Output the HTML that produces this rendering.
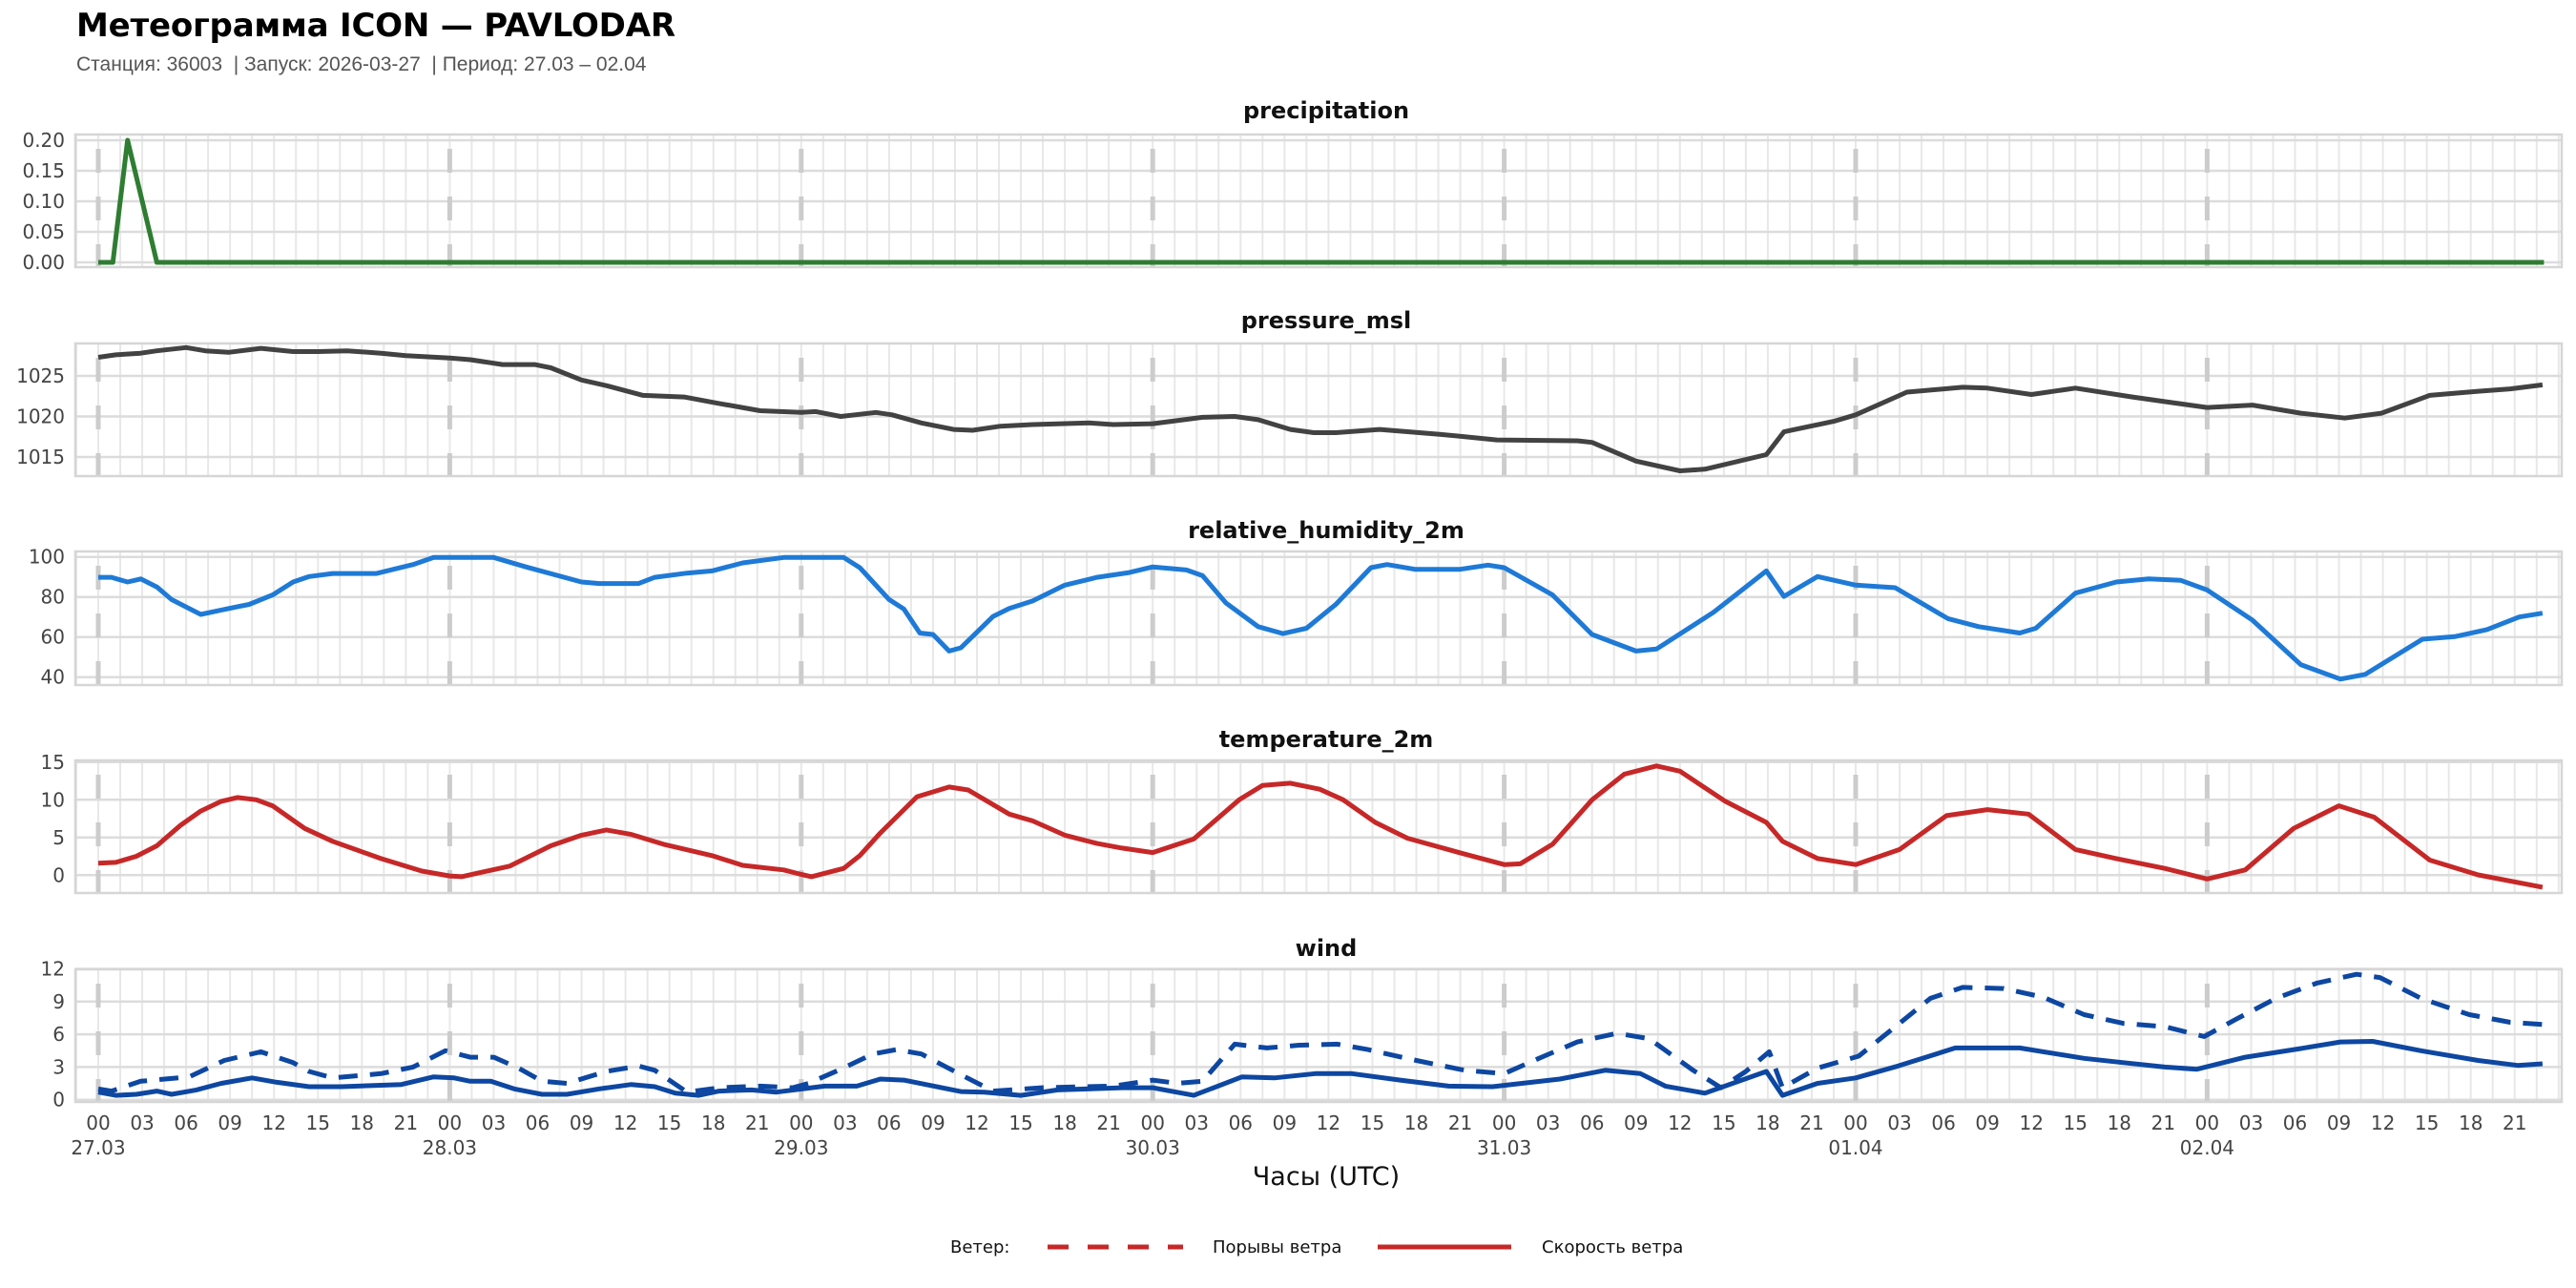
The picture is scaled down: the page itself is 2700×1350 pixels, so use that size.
<!DOCTYPE html>
<html><head><meta charset="utf-8">
<style>
html,body{margin:0;padding:0;background:#fff;}
svg{display:block;font-family:"DejaVu Sans","Liberation Sans",sans-serif;}
</style></head>
<body>
<svg id="chart" width="2700" height="1350" viewBox="0 0 2700 1350" xmlns="http://www.w3.org/2000/svg">
<rect x="0" y="0" width="2700" height="1350" fill="#fff"/>
<text x="80" y="38" font-size="34" font-weight="bold" fill="#000" textLength="628">Метеограмма ICON — PAVLODAR</text>
<text x="80" y="74" font-size="21" fill="#555" style="white-space:pre;font-family:'Liberation Sans',sans-serif" xml:space="preserve">Станция: 36003  | Запуск: 2026-03-27  | Период: 27.03 – 02.04</text>
<g id="panels"></g>
<text x="1390" y="1242" font-size="27" text-anchor="middle" fill="#111">Часы (UTC)</text>
<g>
<text x="996" y="1313" font-size="18" fill="#111">Ветер:</text>
<line x1="1098" y1="1307" x2="1240" y2="1307" stroke="#c62828" stroke-width="5" stroke-dasharray="22 20"/>
<text x="1271" y="1313" font-size="18" fill="#111">Порывы ветра</text>
<line x1="1444" y1="1307" x2="1584" y2="1307" stroke="#c62828" stroke-width="5"/>
<text x="1616" y="1313" font-size="18" fill="#111">Скорость ветра</text>
</g>
</svg>
<script>
// ---- data ----
const precipHours = [0,1,2,3,4,24,48,72,96,120,144,167];
const precipValues = [0,0,0.2,0.1,0,0,0,0,0,0,0,0];

const pressureHours = [0,1.2,2.9,4,6,7.3,8.9,11.1,13.3,15,17,19.3,21,24,25.4,27.6,29.8,30.9,33,34.7,37.2,40,42.4,45.2,48,49,50.7,53.1,54.2,56.2,58.4,59.7,61.6,63.8,67.7,69.3,72,75.4,77.6,79.2,81.4,83,84.5,87.5,91.6,95.5,101,102,105,108,109.7,113.9,115.1,118.5,120,123.5,127.3,129,132,135,138.9,141.6,144,147.1,150.4,153.4,155.9,159.2,162.5,164.7,166.9];
const pressureValues = [1027.3,1027.6,1027.8,1028.1,1028.5,1028.1,1027.9,1028.4,1028,1028,1028.1,1027.8,1027.5,1027.2,1027,1026.4,1026.4,1026,1024.5,1023.8,1022.6,1022.4,1021.6,1020.7,1020.5,1020.6,1020,1020.5,1020.2,1019.2,1018.4,1018.3,1018.8,1019,1019.2,1019,1019.1,1019.9,1020,1019.6,1018.4,1018,1018,1018.4,1017.8,1017.1,1017,1016.8,1014.5,1013.3,1013.5,1015.3,1018.1,1019.4,1020.2,1023,1023.6,1023.5,1022.7,1023.5,1022.4,1021.7,1021.1,1021.4,1020.4,1019.8,1020.4,1022.6,1023.1,1023.4,1023.9];

const rhHours = [0,0.9,2,2.9,4,5,7,8.4,10.3,11.9,13.3,14.4,16,19,21.5,22.9,27,29.2,33,34.2,36.9,38,40.2,41.9,44,46.8,50.9,52,54,55,56.1,57,58.1,58.9,61.1,62.2,63.8,66,68.2,70.4,72,74.3,75.4,77,79.2,80.9,82.5,84.5,86.9,88,89.9,93,94.9,96,99.3,102,105,106.4,110.3,113.9,115.1,117.4,120,122.7,126.3,128.4,131.2,132.3,135,137.8,140,142.2,144,147.1,150.4,153.1,154.8,158.7,160.9,163.1,165.3,166.9];
const rhValues = [89.8,89.8,87.5,89,85,78.7,71.3,73.5,76.3,81,87.5,90.2,91.7,91.7,96.2,99.7,99.7,95,87.5,86.7,86.7,89.8,91.9,93,97,99.7,99.7,94.6,78.7,74,62,61.3,53,54.6,70.3,74.3,78,85.9,89.8,92.2,95,93.5,90.6,77,65.2,61.7,64.4,76.3,94.6,96.2,93.8,93.8,95.9,94.6,81,61.3,53,54,72.4,93,80.3,90.2,85.9,84.6,69.2,65.2,62,64.4,81.9,87.5,89,88.3,83.5,68.4,46.2,39,41.4,58.9,60.2,63.7,70,71.9];

const tempHours = [0,1.2,2.6,4,5.6,7,8.4,9.5,10.8,11.9,14.1,16,19.3,22.1,24,24.8,28.1,30.9,33,34.7,36.4,38.6,41.9,44,46.8,48,48.7,50.9,52,53.4,55.9,58.1,59.4,62.2,63.8,66,68.2,69.9,72,74.8,77.9,79.5,81.4,83.4,85,87.2,89.4,93.3,96,97.1,99.3,102,104.2,106.4,108,111.1,113.9,115,117.4,120,123,126.2,129,131.8,135,137.8,141.1,144,146.6,149.9,153,155.4,159.2,162.5,166.9];
const tempValues = [1.6,1.7,2.5,3.9,6.6,8.5,9.8,10.3,10,9.2,6.2,4.5,2.2,0.55,-0.1,-0.2,1.2,3.9,5.3,6,5.4,4.1,2.6,1.3,0.7,0.1,-0.2,0.9,2.6,5.6,10.4,11.7,11.3,8.1,7.2,5.3,4.2,3.6,3,4.8,10,11.9,12.2,11.4,10,7,4.9,2.8,1.4,1.5,4.1,10,13.4,14.5,13.8,9.8,7,4.5,2.2,1.4,3.4,7.9,8.7,8.1,3.4,2.2,0.9,-0.5,0.7,6.2,9.2,7.7,2,0.04,-1.6];

const windHours = [0,1.2,2.6,4,5,6.7,8.4,10.5,12.2,14.4,16.6,20.7,22.9,24.3,25.4,26.8,28.4,30.3,32,34.2,36.4,38,39.4,41,42.4,44.6,46.3,49.6,51.8,53.4,55,58.9,60.5,63,65.5,69.9,72,74.8,78.1,80.3,83.1,85.6,88.9,92.2,95.2,99.8,102.9,105.3,107,109.7,113.9,115,117.4,120,122.9,126.8,131.2,135.6,138.3,141.1,143.3,146.6,150.4,153.1,155.3,158.6,162.5,165.2,166.9];
const windValues = [0.7,0.4,0.5,0.8,0.5,0.9,1.5,2,1.6,1.2,1.2,1.4,2.1,2,1.7,1.7,1,0.5,0.5,1,1.4,1.2,0.6,0.4,0.8,0.9,0.7,1.25,1.25,1.9,1.8,0.75,0.7,0.4,0.9,1.1,1.1,0.4,2.1,2,2.4,2.4,1.8,1.25,1.2,1.9,2.7,2.4,1.25,0.6,2.6,0.4,1.5,2,3.1,4.75,4.75,3.8,3.4,3,2.8,3.9,4.7,5.3,5.35,4.5,3.6,3.15,3.3];

const gustHours = [0,0.9,2.9,6.2,8.6,11.1,13.3,14.4,16,19.3,21.5,23.7,25.4,27,28.7,30.3,32,34.7,36.9,38,40.2,42.4,45.2,47.4,48.5,50.7,52.9,54.5,56.2,58.9,61.1,64.4,69.3,72,73.7,75.4,77.6,79.8,82,84.6,86.7,90,93.3,96,98.2,101,103.7,105.9,108.9,110.8,112.5,114.1,115,117.4,120.2,122.9,125.1,127.3,130.1,132.8,135.6,138.3,141.1,143.8,146,148.7,151.5,154.2,155.8,158.6,161.9,164.7,166.9];
const gustValues = [1,0.8,1.7,2.1,3.6,4.4,3.4,2.6,2,2.4,3,4.5,3.9,3.9,2.9,1.7,1.5,2.6,3.1,2.7,0.7,1.1,1.25,1.1,1.5,2.8,4.2,4.6,4.2,2.3,0.8,1.1,1.25,1.8,1.5,1.7,5.1,4.75,5,5.1,4.6,3.6,2.7,2.4,3.7,5.3,6.1,5.6,2.7,1.1,2.6,4.4,1.1,2.9,4,6.9,9.3,10.3,10.2,9.4,7.8,7,6.7,5.8,7.4,9.3,10.7,11.5,11.2,9.3,7.8,7.1,6.9];

const hourTickLabels = ["00","03","06","09","12","15","18","21"];
const dayLabels = ["27.03","28.03","29.03","30.03","31.03","01.04","02.04"];
const precipTicks = [0,0.05,0.10,0.15,0.20];
const pressureTicks = [1015,1020,1025];
const rhTicks = [40,60,80,100];
const tempTicks = [0,5,10,15];
const windTicks = [0,3,6,9,12];

// ---- layout ----
const NS = "http://www.w3.org/2000/svg";
const FL = 79, FR = 2685;
function xScale(h){ return 103 + h * 15.35; }
function lin(v0, y0, v1, y1){ return v => y0 + (v - v0) * (y1 - y0) / (v1 - v0); }

const panels = [
  {name:"precipitation", top:141, bot:280, title:116, y:lin(0,275,0.2,147), ticks:precipTicks, fmt:v=>v.toFixed(2),
   series:[{h:precipHours, v:precipValues, color:"#2e7d32", dash:null, id:"precipitation-line"}]},
  {name:"pressure_msl", top:360, bot:499, title:336, y:lin(1025,394,1020,436.5), ticks:pressureTicks, fmt:v=>String(v),
   series:[{h:pressureHours, v:pressureValues, color:"#424242", dash:null, id:"pressure-line"}]},
  {name:"relative_humidity_2m", top:578, bot:718, title:556, y:lin(100,583.7,40,709.7), ticks:rhTicks, fmt:v=>String(v),
   series:[{h:rhHours, v:rhValues, color:"#1e7ad6", dash:null, id:"humidity-line"}]},
  {name:"temperature_2m", top:797, bot:936, title:775, y:lin(0,917.3,10,838.3), ticks:tempTicks, fmt:v=>String(v),
   series:[{h:tempHours, v:tempValues, color:"#c62828", dash:null, id:"temperature-line"}]},
  {name:"wind", top:1016, bot:1155, title:994, y:lin(0,1152.7,9,1049.8), ticks:windTicks, fmt:v=>String(v),
   series:[{h:gustHours, v:gustValues, color:"#0d47a1", dash:"20 13", id:"wind-gust-line"},
           {h:windHours, v:windValues, color:"#0d47a1", dash:null, id:"wind-speed-line"}]}
];

const root = document.getElementById("panels");
function mk(tag, attrs, parent){
  const e = document.createElementNS(NS, tag);
  for (const k in attrs) e.setAttribute(k, attrs[k]);
  (parent || root).appendChild(e);
  return e;
}

panels.forEach(p => {
  const g = mk("g", {});
  
  
  for (let h = -1.5; h <= 169; h += 1.5) {
    const x = xScale(h);
    if (x <= FL || x >= FR) continue;
    const l = mk("line", {x1:x, x2:x, y1:p.top, y2:p.bot, stroke:"#e8e8e8", "stroke-width":2}, g);
    
    
  }
  p.ticks.forEach(t => {
    const y = p.y(t);
    const l = mk("line", {x1:FL, x2:FR, y1:y, y2:y, stroke:"#dcdcdc", "stroke-width":2.5}, g);
    
    
    const tx = mk("text", {x:68, y:y, "font-size":20, fill:"#444", "text-anchor":"end", "dominant-baseline":"central"}, g);
    tx.textContent = p.fmt(t);
    
    
  });
  for (let d = 0; d < 7; d++) {
    const x = xScale(d * 24);
    const l = mk("line", {x1:x, x2:x, y1:p.top + 15, y2:p.bot, stroke:"#cccccc", "stroke-width":5, "stroke-dasharray":"25 25"}, g);
    
    
  }
  const fr = mk("rect", {x:FL, y:p.top, width:FR - FL, height:p.bot - p.top, fill:"none", stroke:"#d6d6d6", "stroke-width":2.5}, g);
  
  
  const tt = mk("text", {x:1390, y:p.title, "font-size":24, "font-weight":"bold", fill:"#111", "text-anchor":"middle", "dominant-baseline":"central"}, g);
  tt.textContent = p.name;
  
  
  p.series.forEach(s => {
    const pts = s.h.map((h, i) => xScale(h).toFixed(1) + "," + p.y(s.v[i]).toFixed(1)).join(" ");
    const attrs = {points:pts, fill:"none", stroke:s.color, "stroke-width":5, "stroke-linejoin":"round"};
    if (s.dash) attrs["stroke-dasharray"] = s.dash;
    const pl = mk("polyline", attrs, g);
    
    
  });
});

const xg = mk("g", {});


for (let h = 0; h <= 165; h += 3) {
  const t = mk("text", {x:xScale(h), y:1177, "font-size":20, fill:"#444", "text-anchor":"middle", "dominant-baseline":"central"}, xg);
  t.textContent = hourTickLabels[(h / 3) % 8];
  
  
}
dayLabels.forEach((d, i) => {
  const t = mk("text", {x:xScale(i * 24), y:1203, "font-size":20, fill:"#444", "text-anchor":"middle", "dominant-baseline":"central"}, xg);
  t.textContent = d;
  
  
});
</script>
</body></html>
